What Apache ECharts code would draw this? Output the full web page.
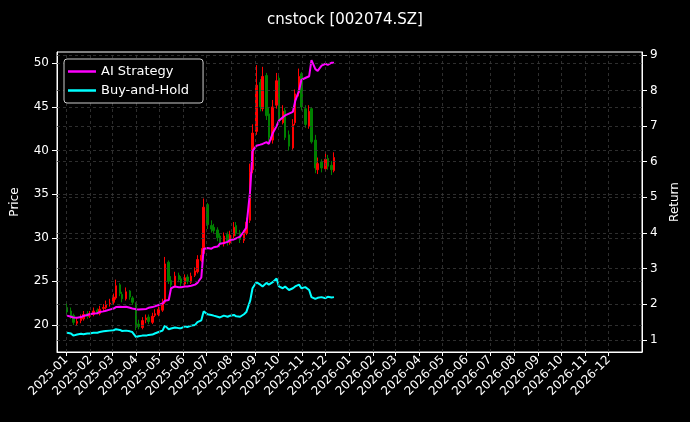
<!DOCTYPE html>
<html><head><meta charset="utf-8">
<script src="https://cdn.jsdelivr.net/npm/echarts@6/dist/echarts.min.js"></script>
<style>html,body{margin:0;background:#000}#c{width:690px;height:422px}</style>
</head><body><div id="c"></div>
<script>
const monthLabels = ['2025-01','2025-02','2025-03','2025-04','2025-05','2025-06','2025-07','2025-08','2025-09','2025-10','2025-11','2025-12','2026-01','2026-02','2026-03','2026-04','2026-05','2026-06','2026-07','2026-08','2026-09','2026-10','2026-11','2026-12'];
const closes = [21.5,21.0,20.3,20.4,20.8,21.2,21.0, 21.3,21.6,21.4,21.8,22.0,22.3,22.5, 23.2,24.5,23.6,23.0,23.8,23.2,22.6, 20.0,19.8,20.5,20.8,20.4,21.0,21.3, 21.8,22.5,27.0,25.0,24.6,25.6,25.2, 24.8,25.4,25.0,25.6,26.2,27.5,28.0, 33.5,31.5,31.0,30.8,30.0,29.4,30.2, 29.5,30.3,31.2,30.5,29.8,30.6,31.8, 37.5,42.0,47.5,45.0,48.5,44.0,41.5, 45.0,48.0,43.5,44.5,41.5,40.5,43.0, 46.5,48.5,45.0,43.0,44.5,41.0,38.0, 38.5,38.0,39.0,38.2,37.8,39.2];
const opens = [22.0,21.6,21.1,20.2,20.5,20.7,21.3, 21.0,21.2,21.7,21.3,21.9,22.0,22.4, 22.6,23.1,24.6,23.5,23.0,23.9,23.1, 22.4,20.1,19.7,20.6,20.9,20.3,21.1, 21.2,21.7,22.6,27.2,25.1,24.5,25.7, 25.3,24.7,25.5,24.9,25.7,26.1,27.4, 28.2,33.8,31.4,31.2,30.9,30.2,29.3, 30.4,29.4,30.2,31.4,30.6,29.7,30.5, 32.0,37.8,42.2,47.8,44.8,48.6,44.2, 41.2,45.2,48.3,43.2,44.6,41.8,40.3, 43.2,46.6,48.8,44.8,42.8,44.8,41.2, 37.8,38.7,37.9,39.1,38.3,37.7];
const highs = [22.5,22.0,21.3,20.9,21.2,21.6,21.6, 21.6,22.0,21.9,22.2,22.4,22.8,23.0, 23.6,25.2,24.8,23.8,24.3,24.0,23.3, 22.6,20.6,20.9,21.2,21.2,21.4,21.8, 22.1,23.0,27.8,27.4,25.6,26.1,26.0, 25.6,25.8,25.8,26.0,26.6,28.0,28.8, 34.5,34.0,32.0,31.6,31.2,30.5,30.6, 30.7,30.8,31.8,31.8,30.9,30.9,32.3, 38.5,43.0,49.8,48.2,49.6,48.9,45.0, 45.8,48.9,48.6,45.2,44.9,42.3,43.6, 47.0,49.4,49.0,45.2,45.2,45.0,41.8, 39.2,39.0,39.8,39.5,38.8,39.8];
const lows = [21.2,20.7,20.0,19.9,20.2,20.5,20.7, 20.8,21.0,21.2,21.1,21.6,21.8,22.1, 22.3,22.9,23.3,22.6,22.8,22.9,22.3, 19.4,19.5,19.5,20.2,20.1,20.1,20.9, 21.0,21.5,22.4,24.7,24.3,24.3,24.9, 24.4,24.5,24.7,24.7,25.5,25.9,27.2, 28.0,31.0,30.6,30.5,29.6,28.9,29.0, 29.1,29.2,29.9,30.2,29.4,29.4,30.3, 31.7,37.4,41.8,44.5,44.5,43.5,40.8, 40.8,44.8,43.0,43.0,41.2,40.0,40.1, 42.9,46.2,44.6,42.6,42.5,40.8,37.4, 37.3,37.5,37.6,37.8,37.2,37.5];
const aiReturn = [1.68,1.65,1.63,1.62,1.64,1.67,1.70, 1.72,1.74,1.75,1.78,1.80,1.82,1.85, 1.88,1.92,1.93,1.92,1.93,1.90,1.88, 1.86,1.85,1.86,1.87,1.90,1.92,1.94, 1.98,2.02,2.10,2.12,2.45,2.50,2.48, 2.48,2.50,2.50,2.52,2.55,2.60,2.75, 3.55,3.58,3.56,3.60,3.62,3.70,3.72, 3.75,3.80,3.82,3.85,3.90,4.05,4.15, 5.20,6.30,6.45,6.48,6.50,6.55,6.50, 6.80,7.00,7.15,7.25,7.30,7.35,7.40, 7.70,8.00,8.30,8.35,8.40,8.85,8.60, 8.55,8.70,8.75,8.72,8.78,8.78];
const bhReturn = [1.20,1.18,1.12,1.15,1.17,1.16,1.18, 1.18,1.20,1.20,1.22,1.24,1.25,1.26, 1.27,1.30,1.28,1.25,1.26,1.24,1.22, 1.08,1.10,1.12,1.12,1.14,1.15,1.18, 1.22,1.26,1.40,1.30,1.32,1.35,1.33, 1.33,1.38,1.36,1.40,1.42,1.50,1.55, 1.80,1.72,1.70,1.68,1.65,1.63,1.68, 1.65,1.68,1.70,1.66,1.65,1.72,1.78, 2.10,2.45,2.62,2.55,2.50,2.60,2.55, 2.62,2.72,2.50,2.45,2.50,2.40,2.45, 2.50,2.55,2.45,2.48,2.40,2.20,2.15, 2.18,2.20,2.17,2.21,2.19,2.20];

// trading dates: every third weekday from 2025-01-02
const dates = [];
let d = new Date(Date.UTC(2025,0,2)), k = 0;
while (dates.length < closes.length) {
  const wd = d.getUTCDay();
  if (wd !== 0 && wd !== 6) { if (k % 3 === 0) dates.push(d.getTime()); k++; }
  d = new Date(d.getTime() + 86400000);
}
const monthTs = monthLabels.map(s => Date.UTC(+s.slice(0,4), +s.slice(5,7)-1, 1));
const labelMap = {}; monthTs.forEach((t,i)=>labelMap[t]=monthLabels[i]);

const candle = dates.map((t,i)=>[t, opens[i], closes[i], lows[i], highs[i]]);
const ai = dates.map((t,i)=>[t, aiReturn[i]]);
const bh = dates.map((t,i)=>[t, bhReturn[i]]);

const txt = {color:'#fff', fontSize:12, fontFamily:'DejaVu Sans'};
const gl = {color:'#3a3a3a', type:[3,3], width:0.8};
const chart = echarts.init(document.getElementById('c'));
chart.setOption({
  backgroundColor:'#000',
  animation:false,
  title:{text:'cnstock [002074.SZ]', left:'center', top:8, textStyle:{color:'#fff', fontSize:15, fontWeight:'normal', fontFamily:'DejaVu Sans'}},
  legend:{orient:'vertical', left:64, top:59, z:20, zlevel:1, textStyle:{color:'#fff', fontSize:13, fontFamily:'DejaVu Sans'},
    data:['AI Strategy','Buy-and-Hold'], icon:'rect',
    itemWidth:28, itemHeight:2.5, itemGap:6, backgroundColor:'#000', borderColor:'#ccc', borderWidth:1, borderRadius:3, padding:[6,14,6,4]},
  grid:{left:57, right:48, top:52, bottom:70, show:true, borderColor:'#fff', borderWidth:1},
  xAxis:{type:'value', min:Date.UTC(2024,11,20), max:Date.UTC(2027,0,13), scale:true,
    axisLine:{lineStyle:{color:'#fff'}}, axisTick:{show:true, customValues:monthTs, lineStyle:{color:'#fff'}, length:4},
    axisLabel:{...txt, rotate:45, customValues:monthTs, formatter:v=>labelMap[v]||'', margin:6},
    splitLine:{show:false}},
  yAxis:[
    {type:'value', min:16.9, max:51.3, name:'Price', nameLocation:'middle', nameGap:36, nameTextStyle:{...txt},
     axisLabel:{...txt, customValues:[20,25,30,35,40,45,50]}, axisTick:{show:true, customValues:[20,25,30,35,40,45,50], lineStyle:{color:'#fff'}},
     axisLine:{show:true, lineStyle:{color:'#fff'}}, splitLine:{show:false}},
    {type:'value', min:0.66, max:9.08, name:'Return', nameLocation:'middle', nameGap:26, nameTextStyle:{...txt},
     axisLabel:{...txt, customValues:[1,2,3,4,5,6,7,8,9]}, axisTick:{show:true, customValues:[1,2,3,4,5,6,7,8,9], lineStyle:{color:'#fff'}},
     axisLine:{show:true, lineStyle:{color:'#fff'}}, splitLine:{show:false}}
  ],
  series:[
    {type:'candlestick', data:candle, barWidth:2, yAxisIndex:0,
     itemStyle:{color:'#ff0000', color0:'#008000', borderColor:'#ff0000', borderColor0:'#008000', borderWidth:1},
     markLine:{silent:true, symbol:'none', label:{show:false}, lineStyle:gl,
       data:[...monthTs.map(t=>({xAxis:t})), ...[20,25,30,35,40,45,50].map(v=>({yAxis:v}))]}},
    {type:'line', name:'AI Strategy', data:ai, yAxisIndex:1, symbol:'none', lineStyle:{color:'#ff00ff', width:2}, itemStyle:{color:'#ff00ff'},
     markLine:{silent:true, symbol:'none', label:{show:false}, lineStyle:gl, data:[1,2,3,4,5,6,7,8,9].map(v=>({yAxis:v}))}},
    {type:'line', name:'Buy-and-Hold', data:bh, yAxisIndex:1, symbol:'none', lineStyle:{color:'#00ffff', width:2}, itemStyle:{color:'#00ffff'}}
  ]
});
</script></body></html>
